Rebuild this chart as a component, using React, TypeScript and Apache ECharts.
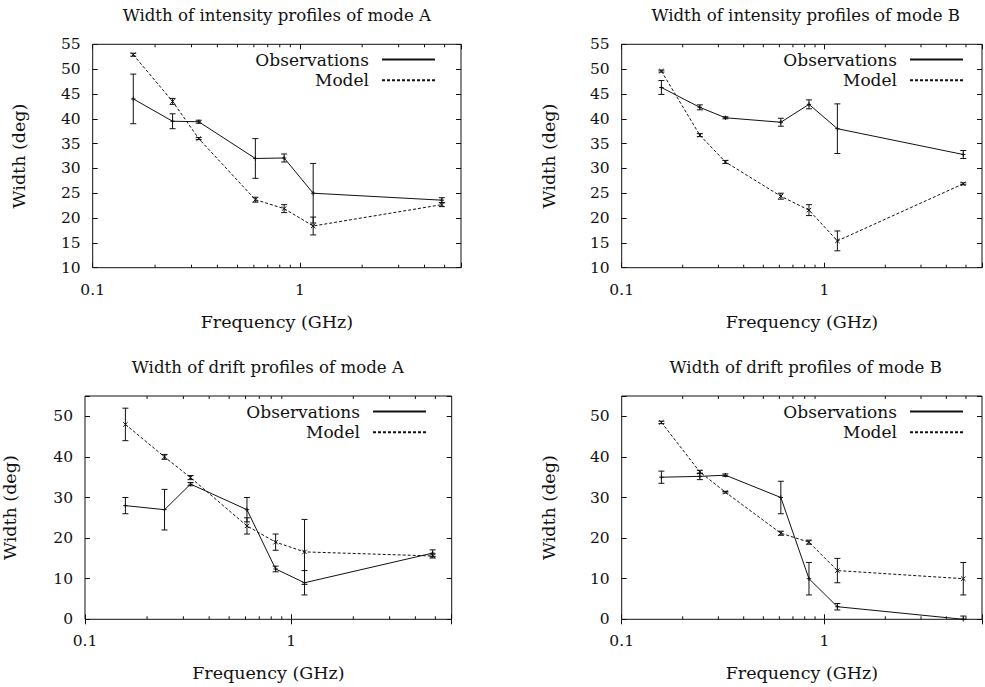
import React, { useEffect, useRef } from "react";
import * as echarts from "echarts";

// Frequencies (GHz) shared by all panels
const FREQUENCIES = [0.157, 0.243, 0.325, 0.61, 0.84, 1.16, 4.85];
const MINOR_X_TICKS = [0.2, 0.3, 0.4, 0.5, 0.6, 0.7, 0.8, 0.9, 2, 3, 4, 5];
const X_LABELS = ["0.1", "1"];

const TITLES = [
  "Width of intensity profiles of mode A",
  "Width of intensity profiles of mode B",
  "Width of drift profiles of mode A",
  "Width of drift profiles of mode B",
];
const SERIES_NAMES = ["Observations", "Model"];
const X_NAME = "Frequency (GHz)";
const Y_NAME = "Width (deg)";

// Intensity profiles, mode A
const INT_A_OBS = [44, 39.5, 39.4, 32, 32.1, 25, 23.6];
const INT_A_OBS_ERR = [5, 1.5, 0.3, 4, 0.8, 6, 0.5];
const INT_A_MOD = [52.9, 43.5, 36, 23.7, 21.9, 18.4, 22.7];
const INT_A_MOD_ERR = [0.3, 0.6, 0.2, 0.5, 0.8, 1.8, 0.4];

// Intensity profiles, mode B
const INT_B_OBS = [46.3, 42.3, 40.2, 39.3, 42.9, 38, 32.8];
const INT_B_OBS_ERR = [1.4, 0.5, 0.2, 0.8, 0.9, 5, 0.8];
const INT_B_MOD = [49.6, 36.7, 31.3, 24.4, 21.6, 15.4, 26.9];
const INT_B_MOD_ERR = [0.2, 0.3, 0.3, 0.6, 1.1, 2, 0.2];

// Drift profiles, mode A
const DRIFT_A_OBS = [28, 27, 33.3, 27, 12.4, 9, 16.3];
const DRIFT_A_OBS_ERR = [2, 5, 0.4, 3, 0.7, 3, 0.8];
const DRIFT_A_MOD = [48, 40, 34.9, 23, 19, 16.6, 15.6];
const DRIFT_A_MOD_ERR = [4, 0.6, 0.5, 2, 2, 8, 0.5];

// Drift profiles, mode B
const DRIFT_B_OBS = [35, 35.2, 35.5, 30, 10, 3.1, 0];
const DRIFT_B_OBS_ERR = [1.5, 0.8, 0.3, 4, 4, 0.8, 0.8];
const DRIFT_B_MOD = [48.5, 36.3, 31.3, 21.2, 19, 12, 10];
const DRIFT_B_MOD_ERR = [0.3, 0.4, 0.2, 0.5, 0.5, 3, 4];

const FONT = "DejaVu Serif";
const INK = "#111";

const PANELS = [
  { obs: INT_A_OBS, obsErr: INT_A_OBS_ERR, mod: INT_A_MOD, modErr: INT_A_MOD_ERR, yMin: 10, yMax: 55, yInt: 5,
    grid: { left: 92.7, top: 44.3, width: 368.3, height: 223.4 }, legendRight: 549, legendTop: 51, yGap: 65 },
  { obs: INT_B_OBS, obsErr: INT_B_OBS_ERR, mod: INT_B_MOD, modErr: INT_B_MOD_ERR, yMin: 10, yMax: 55, yInt: 5,
    grid: { left: 621.7, top: 44.3, width: 368, height: 223.4 }, legendRight: 21, legendTop: 51, yGap: 64 },
  { obs: DRIFT_A_OBS, obsErr: DRIFT_A_OBS_ERR, mod: DRIFT_A_MOD, modErr: DRIFT_A_MOD_ERR, yMin: 0, yMax: 55, yInt: 10,
    grid: { left: 84, top: 396, width: 367.7, height: 223.3 }, legendRight: 558, legendTop: 403, yGap: 66 },
  { obs: DRIFT_B_OBS, obsErr: DRIFT_B_OBS_ERR, mod: DRIFT_B_MOD, modErr: DRIFT_B_MOD_ERR, yMin: 0, yMax: 55, yInt: 10,
    grid: { left: 621.7, top: 396, width: 368, height: 223.3 }, legendRight: 21, legendTop: 403, yGap: 64 },
];

function buildOption() {
  const grid: any[] = [];
  const xAxis: any[] = [];
  const yAxis: any[] = [];
  const series: any[] = [];
  const legend: any[] = [];
  const graphic: any[] = [];

  PANELS.forEach((p, i) => {
    grid.push({ ...p.grid, show: true, borderColor: INK, borderWidth: 1, backgroundColor: "transparent" });

    const xBase = {
      type: "log",
      logBase: 10,
      gridIndex: i,
      min: 0.1,
      max: 6,
      axisLine: { show: false },
      splitLine: { show: false },
      axisTick: { show: true, inside: true, length: 5, lineStyle: { color: INK, width: 1 } },
    };
    xAxis.push({
      ...xBase,
      position: "bottom",
      axisLabel: {
        color: INK,
        fontFamily: FONT,
        fontSize: 15.5,
        margin: 14,
        formatter: (v: number) => {
          if (Math.abs(v - 0.1) < 1e-6) return X_LABELS[0];
          if (Math.abs(v - 1) < 1e-6) return X_LABELS[1];
          return "";
        },
      },
      name: X_NAME,
      nameLocation: "middle",
      nameGap: 45,
      nameTextStyle: { color: INK, fontFamily: FONT, fontSize: 17.5 },
    });
    xAxis.push({ ...xBase, position: "top", axisLabel: { show: false } });

    const yBase = {
      type: "value",
      gridIndex: i,
      min: p.yMin,
      max: p.yMax,
      interval: p.yInt,
      axisLine: { show: false },
      splitLine: { show: false },
      axisTick: { show: true, inside: true, length: 5, lineStyle: { color: INK, width: 1 } },
    };
    yAxis.push({
      ...yBase,
      position: "left",
      axisLabel: {
        color: INK,
        fontFamily: FONT,
        fontSize: 15.5,
        margin: 12,
        formatter: (v: number) => (v % p.yInt === 0 ? String(v) : ""),
      },
      name: Y_NAME,
      nameLocation: "middle",
      nameGap: p.yGap,
      nameTextStyle: { color: INK, fontFamily: FONT, fontSize: 17.5 },
    });
    yAxis.push({ ...yBase, position: "right", axisLabel: { show: false } });

    const xi = i * 2;
    const yi = i * 2;
    const obsData = FREQUENCIES.map((f, k) => [f, p.obs[k]]);
    const modData = FREQUENCIES.map((f, k) => [f, p.mod[k]]);

    series.push({
      type: "line", name: SERIES_NAMES[0], xAxisIndex: xi, yAxisIndex: yi, data: obsData,
      symbol: "none", lineStyle: { color: INK, width: 1, type: "solid" }, itemStyle: { color: INK },
    });
    series.push({
      type: "line", name: SERIES_NAMES[1], xAxisIndex: xi, yAxisIndex: yi, data: modData,
      symbol: "none", lineStyle: { color: INK, width: 1, type: [3, 2] }, itemStyle: { color: INK },
    });

    const errRender = (marker: "plus" | "cross") => (params: any, api: any) => {
      const x = api.value(0);
      const y = api.value(1);
      const e = api.value(2);
      const c = api.coord([x, y]);
      const hi = api.coord([x, Math.min(y + e, p.yMax)]);
      const lo = api.coord([x, Math.max(y - e, p.yMin)]);
      const cap = 3;
      const st = { stroke: INK, lineWidth: 1 };
      const children: any[] = [
        { type: "line", shape: { x1: c[0], y1: lo[1], x2: c[0], y2: hi[1] }, style: st },
        { type: "line", shape: { x1: c[0] - cap, y1: hi[1], x2: c[0] + cap, y2: hi[1] }, style: st },
        { type: "line", shape: { x1: c[0] - cap, y1: lo[1], x2: c[0] + cap, y2: lo[1] }, style: st },
      ];
      const m = 2.2;
      if (marker === "cross") {
        children.push({ type: "line", shape: { x1: c[0] - m, y1: c[1] - m, x2: c[0] + m, y2: c[1] + m }, style: st });
        children.push({ type: "line", shape: { x1: c[0] - m, y1: c[1] + m, x2: c[0] + m, y2: c[1] - m }, style: st });
      } else {
        children.push({ type: "line", shape: { x1: c[0] - m, y1: c[1], x2: c[0] + m, y2: c[1] }, style: st });
        children.push({ type: "line", shape: { x1: c[0], y1: c[1] - m, x2: c[0], y2: c[1] + m }, style: st });
      }
      return { type: "group", children };
    };

    series.push({
      type: "custom", name: "obs-err-" + i, xAxisIndex: xi, yAxisIndex: yi,
      data: FREQUENCIES.map((f, k) => [f, p.obs[k], p.obsErr[k]]),
      encode: { x: 0, y: 1 }, renderItem: errRender("plus"), silent: true, clip: false,
    });
    series.push({
      type: "custom", name: "mod-err-" + i, xAxisIndex: xi, yAxisIndex: yi,
      data: FREQUENCIES.map((f, k) => [f, p.mod[k], p.modErr[k]]),
      encode: { x: 0, y: 1 }, renderItem: errRender("cross"), silent: true, clip: false,
    });
    // minor ticks on the log axes (bottom and top), placed through the axis scale
    series.push({
      type: "custom", name: "minor-" + i, xAxisIndex: xi, yAxisIndex: yi,
      data: MINOR_X_TICKS.map((v) => [v, p.yMin]),
      encode: { x: 0, y: 1 }, silent: true, clip: false,
      renderItem: (params: any, api: any) => {
        const v = api.value(0);
        const b = api.coord([v, p.yMin]);
        const t = api.coord([v, p.yMax]);
        const st = { stroke: INK, lineWidth: 1 };
        return {
          type: "group",
          children: [
            { type: "line", shape: { x1: b[0], y1: b[1], x2: b[0], y2: b[1] - 3 }, style: st },
            { type: "line", shape: { x1: t[0], y1: t[1], x2: t[0], y2: t[1] + 3 }, style: st },
          ],
        };
      },
    });

    SERIES_NAMES.forEach((name, k) => {
      legend.push({
        data: [name],
        right: p.legendRight,
        top: p.legendTop + k * 20.7,
        orient: "horizontal",
        align: "right",
        itemWidth: 53,
        itemHeight: 10,
        padding: 0,
        selectedMode: false,
        itemStyle: { opacity: 0 },
        textStyle: { color: INK, fontFamily: FONT, fontSize: 17, lineHeight: 16, padding: [0, 8, 0, 0] },
      });
    });

    graphic.push({
      type: "text",
      x: p.grid.left + p.grid.width / 2,
      y: p.grid.top - 29,
      silent: true,
      style: {
        text: TITLES[i],
        fill: INK,
        fontFamily: FONT,
        fontSize: 16.6,
        textAlign: "center",
        textVerticalAlign: "middle",
      },
    });
  });

  return { animation: false, backgroundColor: "#fff", grid, xAxis, yAxis, series, legend, graphic };
}

export default function App() {
  const ref = useRef<HTMLDivElement>(null);
  useEffect(() => {
    if (!ref.current) return;
    const chart = echarts.init(ref.current, null, { renderer: "svg" });
    chart.setOption(buildOption() as any);
    return () => chart.dispose();
  }, []);
  return <div ref={ref} style={{ position: "absolute", left: 0, top: 0, width: 985, height: 687 }} />;
}
